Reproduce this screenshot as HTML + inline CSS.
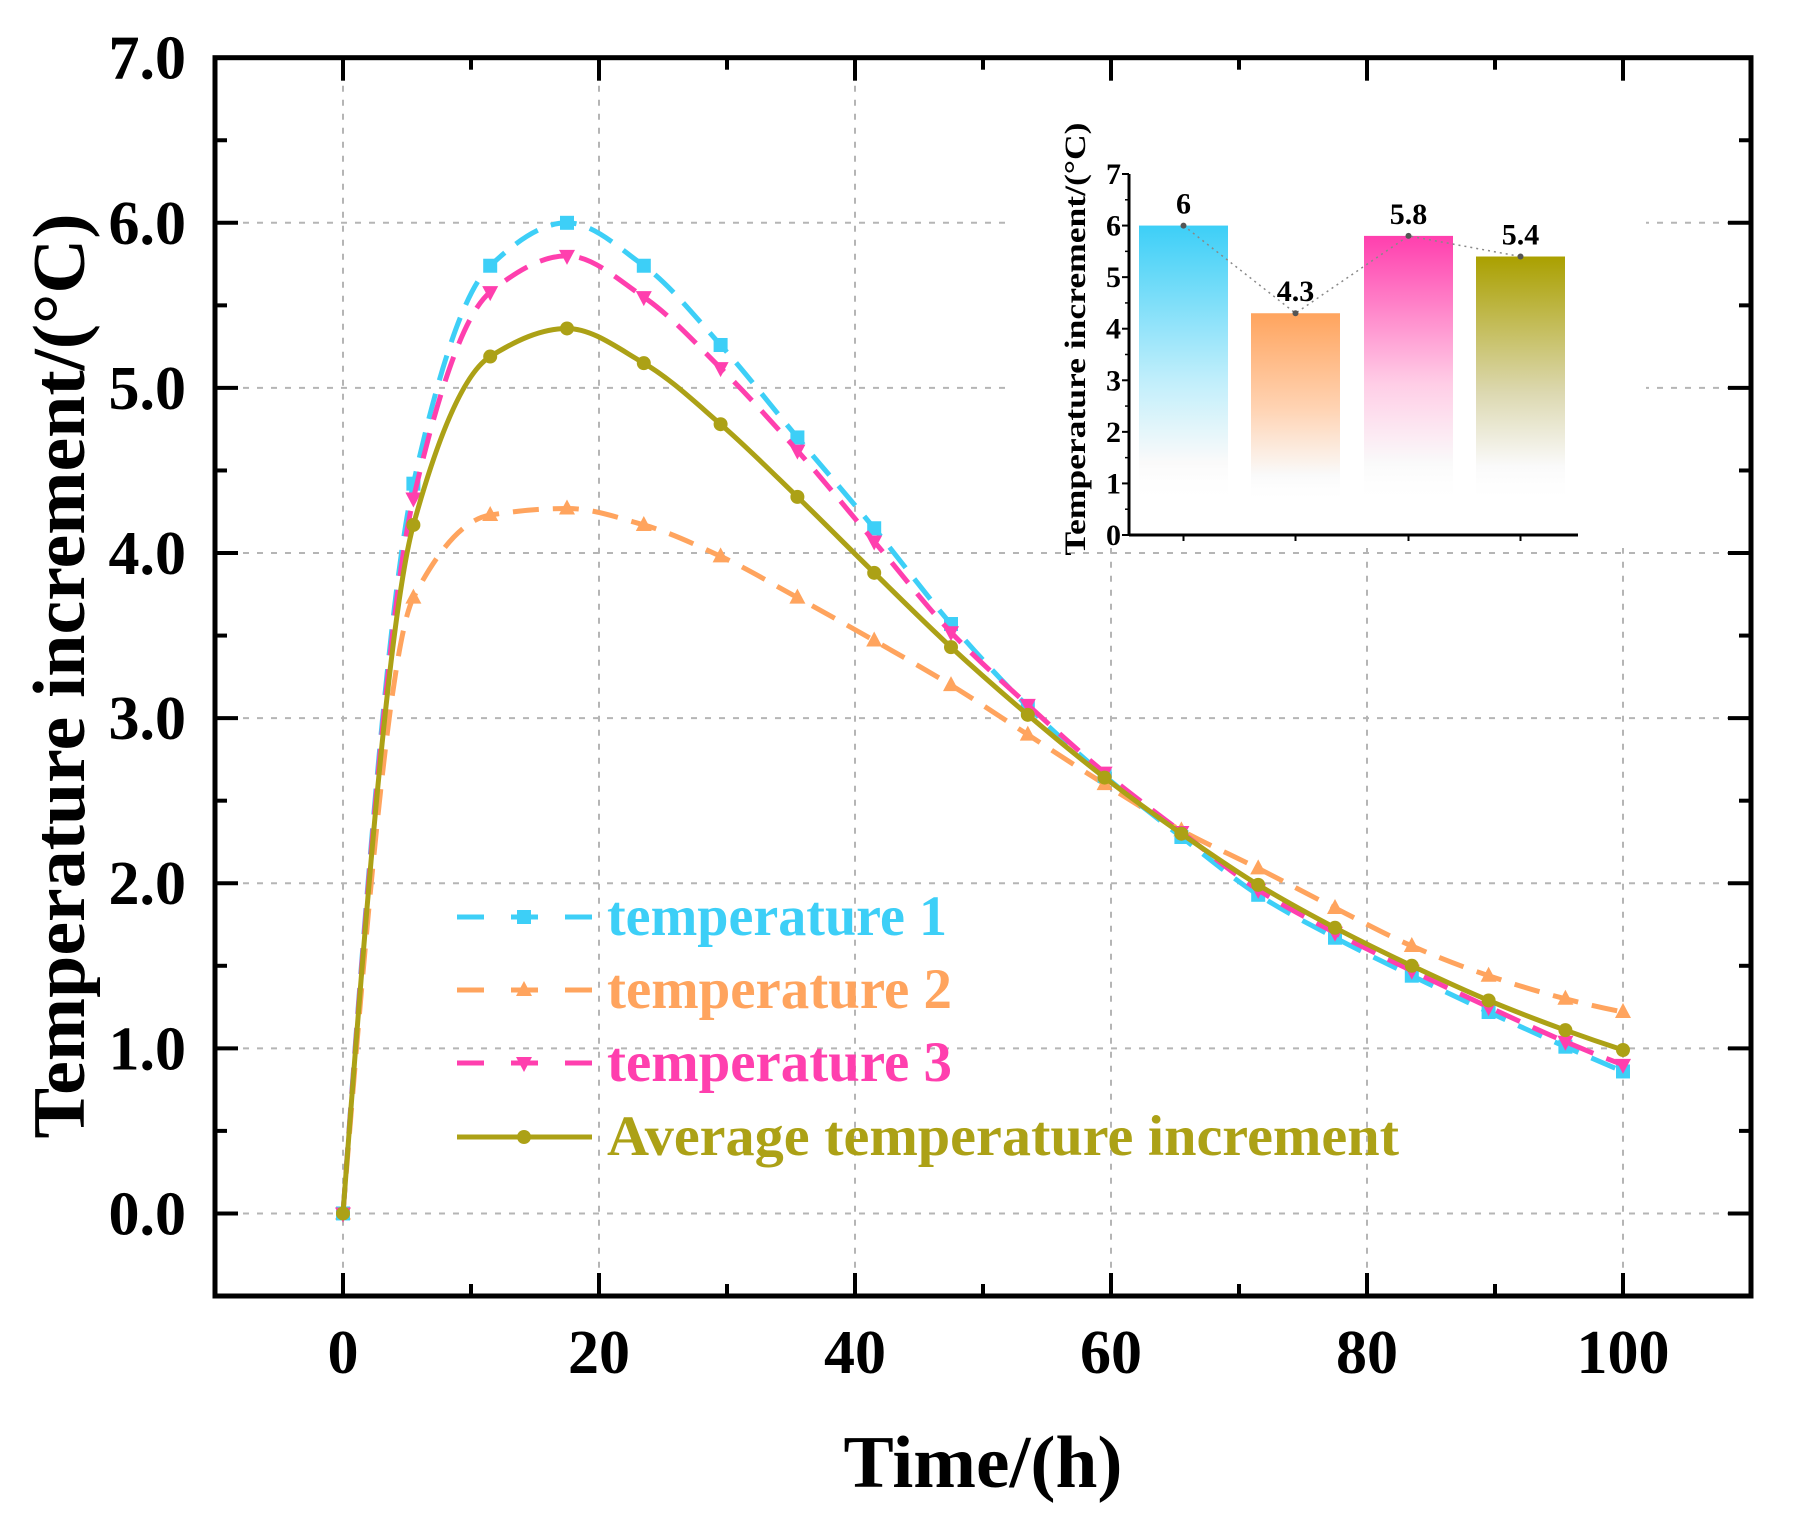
<!DOCTYPE html>
<html><head><meta charset="utf-8"><style>
html,body{margin:0;padding:0;background:#fff}
svg{display:block}
text{font-family:"Liberation Serif",serif;font-weight:bold}
</style></head><body>
<svg id="chart" width="1795" height="1527" viewBox="0 0 1795 1527" xmlns="http://www.w3.org/2000/svg">
<defs>
<linearGradient id="g0" x1="0" y1="0" x2="0" y2="1"><stop offset="0" stop-color="#3dcff7"/><stop offset="0.55" stop-color="#bfeefb"/><stop offset="0.85" stop-color="#fafafa"/><stop offset="1" stop-color="#fff" stop-opacity="0"/></linearGradient>
<linearGradient id="g1" x1="0" y1="0" x2="0" y2="1"><stop offset="0" stop-color="#ffa45e"/><stop offset="0.5" stop-color="#ffd3b3"/><stop offset="0.85" stop-color="#fafafa"/><stop offset="1" stop-color="#fff" stop-opacity="0"/></linearGradient>
<linearGradient id="g2" x1="0" y1="0" x2="0" y2="1"><stop offset="0" stop-color="#ff3fae"/><stop offset="0.55" stop-color="#ffcde6"/><stop offset="0.85" stop-color="#fafafa"/><stop offset="1" stop-color="#fff" stop-opacity="0"/></linearGradient>
<linearGradient id="g3" x1="0" y1="0" x2="0" y2="1"><stop offset="0" stop-color="#aaa000"/><stop offset="0.55" stop-color="#dcd8b0"/><stop offset="0.85" stop-color="#fafafa"/><stop offset="1" stop-color="#fff" stop-opacity="0"/></linearGradient>
</defs>
<g id="grid"></g>
<rect x="1006" y="70" width="640" height="478" fill="#fff"/>
<g id="series"></g>
<g id="axes"></g>
<g id="legend"></g>
<g id="inset"></g>
</svg>
<script>
const NS='http://www.w3.org/2000/svg';
const times=[0,5.5,11.5,17.5,23.5,29.5,35.5,41.5,47.5,53.5,59.5,65.5,71.5,77.5,83.5,89.5,95.5,100];
const temp1=[0,4.42,5.74,6.0,5.74,5.26,4.70,4.15,3.57,3.07,2.65,2.28,1.93,1.67,1.44,1.22,1.01,0.86];
const temp2=[0,3.73,4.23,4.27,4.17,3.98,3.73,3.47,3.20,2.90,2.60,2.32,2.09,1.85,1.62,1.44,1.30,1.22];
const temp3=[0,4.33,5.58,5.80,5.55,5.12,4.62,4.07,3.52,3.08,2.67,2.31,1.96,1.70,1.47,1.25,1.04,0.90];
const avgTemp=[0,4.17,5.19,5.36,5.15,4.78,4.34,3.88,3.43,3.02,2.64,2.30,1.99,1.73,1.50,1.29,1.11,0.99];
const xTicks=[0,20,40,60,80,100];
const yTicks=[0,1,2,3,4,5,6,7];
const yTickLabels=['0.0','1.0','2.0','3.0','4.0','5.0','6.0','7.0'];
const barLabels=['6','4.3','5.8','5.4'];
const barValues=[6,4.3,5.8,5.4];
const insetTicks=[0,1,2,3,4,5,6,7];

const L=215,R=1751,T=57.7,B=1296;
const X=v=>L+(v+10)/120*(R-L);
const Y=v=>B-(v+0.5)/7.5*(B-T);
function el(tag,attrs,parent,txt){const e=document.createElementNS(NS,tag);for(const k in attrs)e.setAttribute(k,attrs[k]);if(txt!==undefined)e.textContent=txt;parent.appendChild(e);return e;}
const grid=document.getElementById('grid'),axes=document.getElementById('axes'),series=document.getElementById('series'),legend=document.getElementById('legend'),inset=document.getElementById('inset');

xTicks.forEach(v=>{const g=el('line',{x1:X(v),x2:X(v),y1:T,y2:B,stroke:'#b5b5b5','stroke-width':2,'stroke-dasharray':'6 8'},grid);

});
yTicks.forEach(v=>{const g=el('line',{x1:L,x2:R,y1:Y(v),y2:Y(v),stroke:'#b5b5b5','stroke-width':2,'stroke-dasharray':'6 8'},grid);

});

function path(vals){
 const n=times.length,h=[],d=[],m=[];
 for(let i=0;i<n-1;i++){h[i]=times[i+1]-times[i];d[i]=(vals[i+1]-vals[i])/h[i];}
 m[0]=((2*h[0]+h[1])*d[0]-h[0]*d[1])/(h[0]+h[1]);
 if(m[0]*d[0]<=0)m[0]=0;
 for(let i=1;i<n-1;i++){if(d[i-1]*d[i]<=0)m[i]=0;else m[i]=3*(h[i-1]+h[i])/((2*h[i]+h[i-1])/d[i-1]+(h[i]+2*h[i-1])/d[i]);}
 m[n-1]=((2*h[n-2]+h[n-3])*d[n-2]-h[n-2]*d[n-3])/(h[n-2]+h[n-3]);
 let s='M'+X(times[0])+','+Y(vals[0]);
 for(let i=0;i<n-1;i++){const x0=times[i],x1=times[i+1],y0=vals[i],y1=vals[i+1];
  s+=` C${X(x0+h[i]/3)},${Y(y0+m[i]*h[i]/3)} ${X(x1-h[i]/3)},${Y(y1-m[i+1]*h[i]/3)} ${X(x1)},${Y(y1)}`;}
 return s;}
function marker(shape,x,y,c,parent){let m;
if(shape==='square')m=el('rect',{x:x-7,y:y-7,width:14,height:14,fill:c},parent);
else if(shape==='up')m=el('polygon',{points:`${x},${y-9} ${x-8},${y+6} ${x+8},${y+6}`,fill:c},parent);
else if(shape==='down')m=el('polygon',{points:`${x},${y+9} ${x-8},${y-6} ${x+8},${y-6}`,fill:c},parent);
else m=el('circle',{cx:x,cy:y,r:7,fill:c},parent);
return m;}
const S=[
 {name:'temperature-2',vals:temp2,c:'#ffa45e',shape:'up',dash:'26 14',label:'temperature 2',tl:345},
 {name:'temperature-1',vals:temp1,c:'#3dcff7',shape:'square',dash:'26 14',label:'temperature 1',tl:340},
 {name:'temperature-3',vals:temp3,c:'#ff3fae',shape:'down',dash:'26 14',label:'temperature 3',tl:345},
 {name:'average-temperature',vals:avgTemp,c:'#aca116',shape:'circle',dash:null,label:'Average temperature increment',tl:792}];
S.forEach(s=>{const g=el('g',{},series);


const a={d:path(s.vals),fill:'none',stroke:s.c,'stroke-width':5};if(s.dash)a['stroke-dasharray']=s.dash;
const ln=el('path',a,g);


times.forEach((t,i)=>{const m=marker(s.shape,X(t),Y(s.vals[i]),s.c,g);

});});

const order=[S[1],S[0],S[2],S[3]];const ly=[917,990,1063,1137];
order.forEach((s,i)=>{const g=el('g',{},legend);


const a={x1:457,x2:592,y1:ly[i],y2:ly[i],stroke:s.c,'stroke-width':5};if(s.dash)a['stroke-dasharray']='27 27';
el('line',a,g);marker(s.shape,524,ly[i],s.c,g);
el('text',{x:607,y:ly[i]+18,'font-size':57,fill:s.c,textLength:s.tl,lengthAdjust:'spacingAndGlyphs'},g,s.label);});

const fr=el('rect',{x:L,y:T,width:R-L,height:B-T,fill:'none',stroke:'#000','stroke-width':5},axes);


for(let v=-10;v<=110;v+=10){const len=(v%20===0)?23:12;
el('line',{x1:X(v),x2:X(v),y1:B,y2:B-len,stroke:'#000','stroke-width':4},axes);
el('line',{x1:X(v),x2:X(v),y1:T,y2:T+len,stroke:'#000','stroke-width':4},axes);}
for(let v=-0.5;v<=7.01;v+=0.5){const len=(Math.abs(v-Math.round(v))<0.01)?23:12;
el('line',{x1:L,x2:L+len,y1:Y(v),y2:Y(v),stroke:'#000','stroke-width':4},axes);
el('line',{x1:R,x2:R-len,y1:Y(v),y2:Y(v),stroke:'#000','stroke-width':4},axes);}
xTicks.forEach(v=>{const t=el('text',{x:X(v),y:1373,'font-size':62,'text-anchor':'middle',fill:'#000'},axes,String(v));

});
yTicks.forEach((v,i)=>{const t=el('text',{x:186,y:Y(v)+21,'font-size':62,'text-anchor':'end',fill:'#000'},axes,yTickLabels[i]);

});
const xt=el('text',{x:983,y:1487,'font-size':74,'text-anchor':'middle',fill:'#000',textLength:279,lengthAdjust:'spacingAndGlyphs'},axes,'Time/(h)');


const yt=el('text',{x:0,y:0,'font-size':74,'text-anchor':'middle',fill:'#000',transform:'translate(84,676) rotate(-90)',textLength:925,lengthAdjust:'spacingAndGlyphs'},axes,'Temperature increment/(°C)');



const IL=1129,IR=1578,IB=535,IT=174;
const IY=v=>IB-v/7*(IB-IT);
const barX=[1183.5,1295.5,1408.5,1520.5];
barValues.forEach((v,i)=>{const b=el('rect',{x:barX[i]-44.5,y:IY(v),width:89,height:IY(0.6)-IY(v),fill:`url(#g${i})`},inset);


const t=el('text',{x:barX[i],y:IY(v)-12,'font-size':30,'text-anchor':'middle',fill:'#000'},inset,barLabels[i]);

});
const cl=el('polyline',{points:barValues.map((v,i)=>barX[i]+','+IY(v)).join(' '),fill:'none',stroke:'#888','stroke-width':1.5,'stroke-dasharray':'2 4'},inset);


barValues.forEach((v,i)=>{el('circle',{cx:barX[i],cy:IY(v),r:3,fill:'#555'},inset);});
el('line',{x1:IL,x2:IL,y1:IT,y2:IB,stroke:'#000','stroke-width':3},inset);
el('line',{x1:IL,x2:IR,y1:IB,y2:IB,stroke:'#000','stroke-width':3},inset);
insetTicks.forEach(v=>{el('line',{x1:IL-7,x2:IL,y1:IY(v),y2:IY(v),stroke:'#000','stroke-width':2},inset);
if(v<7)el('line',{x1:IL-4,x2:IL,y1:IY(v+0.5),y2:IY(v+0.5),stroke:'#000','stroke-width':1.5},inset);
const t=el('text',{x:1121,y:IY(v)+10,'font-size':30,'text-anchor':'end',fill:'#000','font-weight':'normal'},inset,String(v));

});
barX.forEach(x=>el('line',{x1:x,x2:x,y1:IB,y2:IB+6,stroke:'#000','stroke-width':2},inset));
const it=el('text',{x:0,y:0,'font-size':30,'text-anchor':'middle',fill:'#000',transform:'translate(1085,339) rotate(-90)',textLength:433,lengthAdjust:'spacingAndGlyphs'},inset,'Temperature increment/(°C)');


</script>
</body></html>
